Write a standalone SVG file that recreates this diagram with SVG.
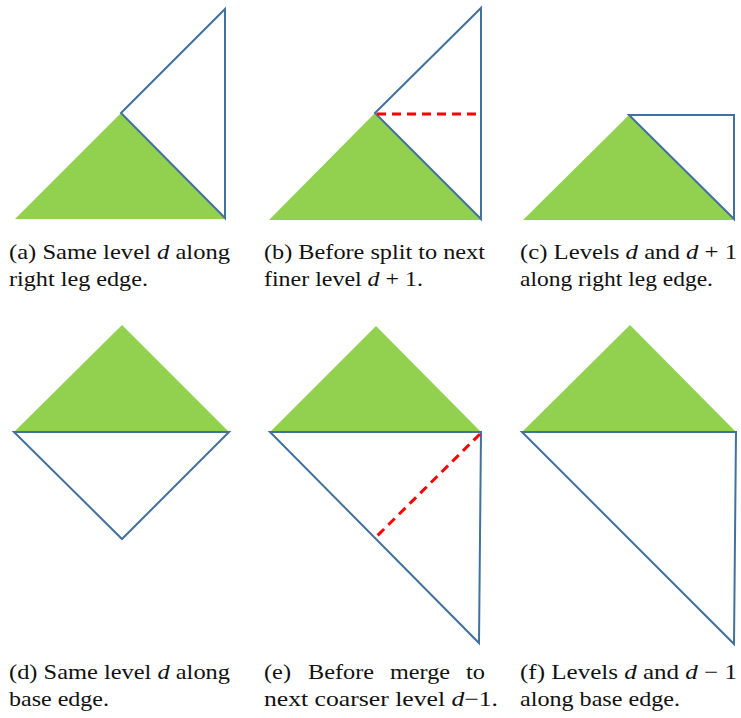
<svg xmlns="http://www.w3.org/2000/svg" width="741" height="718" viewBox="0 0 741 718">
<style>
.g{fill:#92D050;stroke:none}
.w{fill:#fff;stroke:#41719C;stroke-width:2;stroke-linejoin:miter}
.r{stroke:#FF0000;stroke-width:3;stroke-dasharray:9 6;fill:none}
.t{font-family:'Liberation Serif','Times New Roman',serif;font-size:21px;fill:#111}
.i{font-style:italic}
</style>
<rect width="741" height="718" fill="#fff"/>
<g id="panel-a">
<polygon class="g" points="15,219 121,113 225,219"/>
<polygon class="w" points="121,113 225,9 225,218"/>
<text class="t" x="9" y="259" textLength="221" lengthAdjust="spacingAndGlyphs">(a) Same level <tspan class="i">d</tspan> along</text>
<text class="t" x="9" y="286" textLength="139" lengthAdjust="spacingAndGlyphs">right leg edge.</text>
</g>
<g id="panel-b">
<polygon class="g" points="269,220 375,113 481,220"/>
<polygon class="w" points="375,113 481,8 481,219"/>
<text class="t" x="264" y="259" textLength="221" lengthAdjust="spacingAndGlyphs">(b) Before split to next</text>
<text class="t" x="264" y="286" textLength="159" lengthAdjust="spacingAndGlyphs">finer level <tspan class="i">d</tspan> + 1.</text>
</g>
<g id="panel-c">
<polygon class="g" points="523,220 629,115 734,220"/>
<polygon class="w" points="629,115 734,115 734,219"/>
<text class="t" x="520" y="259" textLength="217" lengthAdjust="spacingAndGlyphs">(c) Levels <tspan class="i">d</tspan> and <tspan class="i">d</tspan> + 1</text>
<text class="t" x="520" y="286" textLength="193" lengthAdjust="spacingAndGlyphs">along right leg edge.</text>
</g>
<g id="panel-d">
<polygon class="g" points="14,432 122,325 229,432"/>
<polygon class="w" points="14,432 229,432 122,539"/>
<text class="t" x="9" y="679" textLength="221" lengthAdjust="spacingAndGlyphs">(d) Same level <tspan class="i">d</tspan> along</text>
<text class="t" x="9" y="706" textLength="100" lengthAdjust="spacingAndGlyphs">base edge.</text>
</g>
<g id="panel-e">
<polygon class="g" points="270,432 376,326 481,432"/>
<polygon class="w" points="270,432 481,432 479,643"/>
<text class="t" x="264" y="679" textLength="27" lengthAdjust="spacingAndGlyphs">(e)</text>
<text class="t" x="308" y="679" textLength="66" lengthAdjust="spacingAndGlyphs">Before</text>
<text class="t" x="390" y="679" textLength="60" lengthAdjust="spacingAndGlyphs">merge</text>
<text class="t" x="466" y="679" textLength="19" lengthAdjust="spacingAndGlyphs">to</text>
<text class="t" x="264" y="706" textLength="234" lengthAdjust="spacingAndGlyphs">next coarser level <tspan class="i">d</tspan>−1.</text>
</g>
<g id="panel-f">
<polygon class="g" points="522,432 630,325 736,432"/>
<polygon class="w" points="522,432 736,432 734,644"/>
<text class="t" x="520" y="679" textLength="217" lengthAdjust="spacingAndGlyphs">(f) Levels <tspan class="i">d</tspan> and <tspan class="i">d</tspan> − 1</text>
<text class="t" x="520" y="706" textLength="160" lengthAdjust="spacingAndGlyphs">along base edge.</text>
</g>
<g id="connectors">
<line class="r" x1="377" y1="114" x2="481" y2="114"/>
<line class="r" x1="480" y1="434" x2="375" y2="538"/>
</g>
</svg>
